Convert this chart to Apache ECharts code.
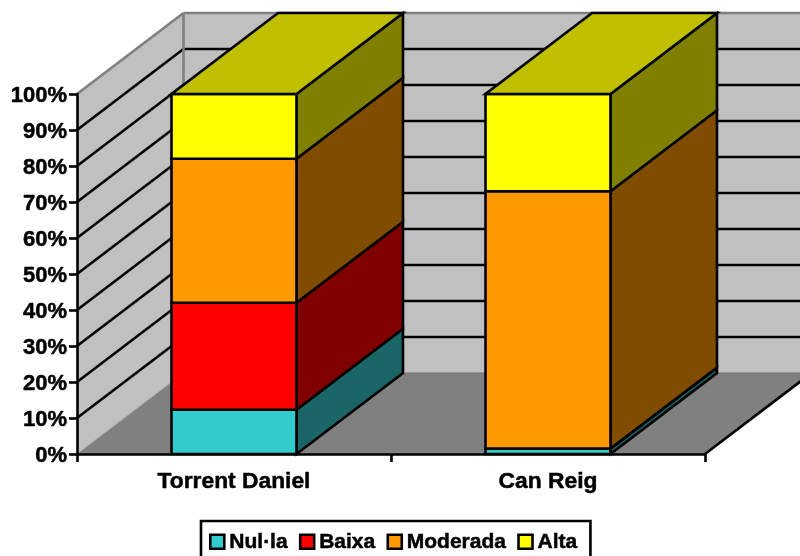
<!DOCTYPE html>
<html><head><meta charset="utf-8">
<style>html,body{margin:0;padding:0;background:#fff;overflow:hidden}#c{width:800px;height:556px}</style>
<script src="https://cdn.jsdelivr.net/npm/echarts@6/dist/echarts.min.js"></script>
</head><body><div id="c"></div>
<script>
const categories = ['Torrent Daniel', 'Can Reig'];
const nulla = [12.3, 1.5];
const baixa = [29.7, 0];
const moderada = [40, 71.5];
const alta = [18, 27];
const yTicks = [0,10,20,30,40,50,60,70,80,90,100];
const names = ['Nul·la','Baixa','Moderada','Alta'];
const levels = [nulla, baixa, moderada, alta];
const front = ['#33CCCC','#FF0000','#FF9900','#FFFF00'];
const side = ['#1A6666','#800000','#804D00','#808000'];
const topFace = '#C0C000';
const DX = 106.5, DY = -81;
const BAR = 0.398;
const FONT = 'Liberation Sans';
const LW = 2.6;

function poly(pts, fill, stroke, lw){
  return {type:'polygon', shape:{points:pts}, style:{fill:fill, stroke:stroke||null, lineWidth:lw||0, lineJoin:'miter'}};
}
function line(a,b,stroke,lw){
  return {type:'line', shape:{x1:a[0],y1:a[1],x2:b[0],y2:b[1]}, style:{stroke:stroke,lineWidth:lw,fill:null}};
}
function renderWalls(params, api){
  if(params.dataIndex!==0) return {type:'group',children:[]};
  const b = params.coordSys;
  const x0=b.x, x1=b.x+b.width;
  const y0=api.coord([0,0])[1], y100=api.coord([0,100])[1];
  const ch=[];
  ch.push(poly([[x0+DX,y100+DY],[x1+DX,y100+DY],[x1+DX,y0+DY],[x0+DX,y0+DY]],'#C0C0C0'));
  ch.push(poly([[x0,y100],[x0+DX,y100+DY],[x0+DX,y0+DY],[x0,y0]],'#C0C0C0'));
  ch.push(poly([[x0,y0],[x0+DX,y0+DY],[x1+DX,y0+DY],[x1,y0]],'#808080'));
  yTicks.forEach(function(t){
    const y=api.coord([0,t])[1];
    if(t>0 && t<100){
      ch.push(line([x0,y],[x0+DX,y+DY],'#000',LW));
      ch.push(line([x0+DX,y+DY],[x1+DX,y+DY],'#000',LW));
    }
  });
  ch.push(line([x0,y100],[x0+DX,y100+DY],'#808080',LW));
  ch.push(line([x0+DX,y100+DY],[x1+DX,y100+DY],'#808080',LW));
  ch.push(line([x0+DX,y100+DY],[x0+DX,y0+DY],'#808080',LW));
  ch.push(line([x0,y0],[x0+DX,y0+DY],'#A0A0A0',1));
  ch.push(line([x0+DX,y0+DY],[x1+DX,y0+DY],'#707070',1));
  ch.push(line([x1,y0],[x1+DX,y0+DY],'#000',LW));
  return {type:'group',children:ch};
}
function renderSeg(level){
  return function(params, api){
    const c=api.value(0), a=api.value(1), e=api.value(2);
    if(e<=a) return {type:'group',children:[]};
    const w=api.size([1,0])[0]*BAR;
    const pa=api.coord([c,a]), pe=api.coord([c,e]);
    const l=pa[0]-w/2, r=pa[0]+w/2, yb=pa[1], yt=pe[1];
    const ch=[];
    ch.push(poly([[r,yb],[r+DX,yb+DY],[r+DX,yt+DY],[r,yt]],side[level],'#000',LW));
    ch.push(poly([[l,yb],[r,yb],[r,yt],[l,yt]],front[level],'#000',LW));
    if(level===3){
      ch.push(poly([[l,yt],[r,yt],[r+DX,yt+DY],[l+DX,yt+DY]],topFace,'#000',LW));
    }
    return {type:'group',children:ch};
  };
}
const stackStart=[0,0];
const barSeries=levels.map(function(vals,i){
  const data=vals.map(function(v,k){
    const s=stackStart[k]; stackStart[k]=s+v;
    return [k,s,s+v];
  });
  return {type:'custom',name:names[i],data:data,renderItem:renderSeg(i),z:3+i,
    encode:{x:0,y:[1,2]},itemStyle:{color:front[i]},clip:false,silent:true};
});
const wallSeries={type:'custom',name:'walls',data:[[0,0,100]],renderItem:renderWalls,z:1,
  encode:{x:0,y:[1,2]},clip:false,silent:true};

const heavy={textBorderColor:'#000',textBorderWidth:0.5};
const chart=echarts.init(document.getElementById('c'),null,{renderer:'canvas'});
chart.setOption({
  animation:false,
  backgroundColor:'#fff',
  grid:{left:77,top:94,width:628,height:360,containLabel:false},
  legend:{
    data:names, left:201, top:521, orient:'horizontal',
    backgroundColor:'#fff',
    borderColor:'#000', borderWidth:2.6, borderRadius:0,
    padding:[10,13,10,8], itemGap:11, itemWidth:14, itemHeight:14,
    icon:'rect',
    itemStyle:{borderColor:'#000',borderWidth:2.6},
    textStyle:Object.assign({fontFamily:FONT,fontWeight:'bold',fontSize:21,color:'#000',padding:[0,0,0,0]},heavy)
  },
  xAxis:{type:'category',data:categories,boundaryGap:true,z:20,
    axisLine:{show:true,lineStyle:{color:'#000',width:LW}},
    axisTick:{show:true,length:8,lineStyle:{color:'#000',width:LW}},
    axisLabel:Object.assign({fontFamily:FONT,fontWeight:'bold',fontSize:22.8,color:'#000',margin:16},heavy),
    splitLine:{show:false}},
  yAxis:{type:'value',min:0,max:100,interval:10,z:20,
    axisLine:{show:true,lineStyle:{color:'#000',width:LW}},
    axisTick:{show:true,length:8,lineStyle:{color:'#000',width:LW}},
    axisLabel:{formatter:'{a|{value}%}',margin:10,
      rich:{a:Object.assign({fontFamily:FONT,fontWeight:'bold',fontSize:22,color:'#000',padding:[3,0,0,0]},heavy)}},
    splitLine:{show:false}},
  series:[wallSeries].concat(barSeries)
});
</script></body></html>
